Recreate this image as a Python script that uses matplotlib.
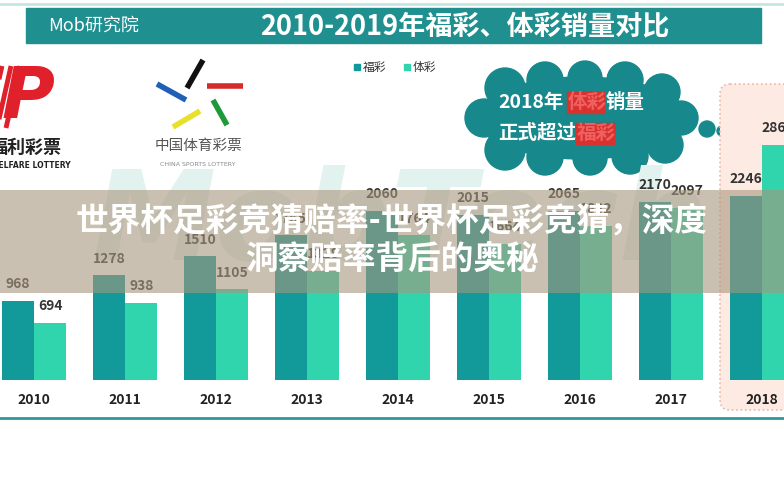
import matplotlib.pyplot as plt
from matplotlib.patches import Rectangle, Circle, Ellipse, FancyBboxPatch

plt.rcParams['font.family'] = ['Noto Sans CJK SC', 'DejaVu Sans']

years = ['2010', '2011', '2012', '2013', '2014', '2015', '2016', '2017', '2018']
fucai = [968, 1278, 1510, 1765, 2060, 2015, 2065, 2170, 2246]
ticai = [694, 938, 1105, 1328, 1764, 1664, 1882, 2097, 2869]
series_names = ['福彩', '体彩']

c_fu = '#12999a'
c_ti = '#30d4ad'
teal = '#1f8f8f'

fig = plt.figure(figsize=(7.84, 4.83), dpi=100)
fig.patch.set_facecolor('white')

# background layer in pixel coords
bg = fig.add_axes([0, 0, 1, 1])
bg.set_xlim(0, 784)
bg.set_ylim(483, 0)
bg.axis('off')
bg.set_zorder(0)

# thin line + title banner
bg.plot([0, 784], [4, 4], color='#c4e6e2', lw=2)
bg.add_patch(Rectangle((26, 8), 735, 35, color=teal))
bg.text(48, 26, 'Mob研究院', color='white', fontsize=13, style='italic',
        va='center', ha='left')
bg.text(465, 26, '2010-2019年福彩、体彩销量对比', color='white', fontsize=19.5,
        fontweight='bold', va='center', ha='center')

# legend
bg.add_patch(Rectangle((354, 64), 6, 6, color=c_fu))
bg.text(363, 67, series_names[0], fontsize=8.5, va='center', color='#333333')
bg.add_patch(Rectangle((404, 64), 6, 6, color=c_ti))
bg.text(413, 67, series_names[1], fontsize=8.5, va='center', color='#333333')

# welfare lottery logo (cropped at left edge)
for dx in [0, 9, 18]:
    bg.plot([dx - 12, dx + 2], [128, 66], color='#e0202a', lw=3.5, solid_capstyle='butt')
bg.text(28, 98, 'P', color='#e0202a', fontsize=52, fontweight='bold',
        style='italic', family='DejaVu Sans', ha='center', va='center')
bg.text(-10, 147, '福利彩票', fontsize=13, fontweight='bold', color='#222222',
        va='center', ha='left')
bg.text(-10, 165, 'WELFARE LOTTERY', fontsize=5.5, fontweight='bold',
        color='#222222', va='center', ha='left', family='DejaVu Sans')

# sports lottery logo
strokes = [((187, 88), (203, 60), '#111111'),
           ((207, 86), (243, 86), '#d62b2b'),
           ((157, 84), (186, 100), '#1f5fb5'),
           ((173, 127), (200, 111), '#e8e02a'),
           ((213, 100), (227, 125), '#1f9a3a')]
for (x0, y0), (x1, y1), col in strokes:
    bg.plot([x0, x1], [y0, y1], color=col, lw=4, solid_capstyle='butt')
bg.text(198, 146, '中国体育彩票', fontsize=10.5, color='#555555', ha='center', va='center')
bg.text(198, 165, 'CHINA SPORTS LOTTERY', fontsize=4.5, color='#888888',
        ha='center', va='center', family='DejaVu Sans')

# cloud
cloud_col = '#17888b'
bg.add_patch(Ellipse((582, 118), 210, 82, color=cloud_col))
for cx, cy, r in [(505, 88, 20), (545, 80, 18), (585, 78, 17), (625, 80, 18),
                  (662, 92, 18), (505, 150, 20), (545, 157, 18), (590, 158, 17),
                  (630, 156, 18), (665, 145, 18), (484, 118, 19), (681, 118, 17)]:
    bg.add_patch(Circle((cx, cy), r, color=cloud_col))
for cx, cy, r in [(707, 129, 8), (722, 131, 5), (732, 132, 3)]:
    bg.add_patch(Circle((cx, cy), r, color=cloud_col))
bg.text(498, 102, '2018年', color='white', fontsize=14, fontweight='bold', va='center')
bg.add_patch(Rectangle((567, 92), 37, 21, color='#d8322e'))
bg.text(568, 102, '体彩', color='#f06060', fontsize=14, fontweight='bold', va='center')
bg.text(606, 102, '销量', color='white', fontsize=14, fontweight='bold', va='center')
bg.text(498, 133, '正式超过', color='white', fontsize=14, fontweight='bold', va='center')
bg.add_patch(Rectangle((576, 123), 38, 21, color='#d8322e'))
bg.text(577, 133, '福彩', color='#f06060', fontsize=14, fontweight='bold', va='center')

# watermark
bg.text(400, 225, 'MobTech', fontsize=90, style='italic', fontweight='bold',
        color='#e2f2ef', ha='center', va='center', family='DejaVu Sans')

# 2018 highlight box
bg.add_patch(FancyBboxPatch((720, 84), 80, 326, boxstyle='round,pad=0,rounding_size=10',
                            facecolor='#fdeae3', edgecolor='#e6b9a9', lw=1.2, ls=':'))

# bottom line
bg.plot([0, 784], [418, 418], color='#2a9a96', lw=2)

# bar chart axes
ax = fig.add_axes([0, (483 - 380) / 483, 1, 380 / 483])
ax.set_zorder(1)
ax.patch.set_alpha(0)
ax.set_xlim(-34 / 91, 750 / 91)
ax.set_ylim(0, 380 / 0.082)
ax.axis('off')

w = 0.357
xs = range(len(years))
ax.bar([x - w / 2 for x in xs], fucai, width=w, color=c_fu)
ax.bar([x + w / 2 for x in xs], ticai, width=w, color=c_ti)
for x, v in zip(xs, fucai):
    ax.annotate(str(v), (x - w / 2, v), xytext=(0, 12), textcoords='offset points',
                ha='center', va='center', fontsize=10, fontweight='bold', color='#333333')
for x, v in zip(xs, ticai):
    ax.annotate(str(v), (x + w / 2, v), xytext=(0, 12), textcoords='offset points',
                ha='center', va='center', fontsize=10, fontweight='bold', color='#333333')
for x, yr in zip(xs, years):
    ax.annotate(yr, (x, 0), xytext=(0, -14.5), textcoords='offset points',
                ha='center', va='center', fontsize=10, fontweight='bold', color='#222222')

# overlay band with article title
ov = fig.add_axes([0, 0, 1, 1])
ov.set_zorder(2)
ov.patch.set_alpha(0)
ov.set_xlim(0, 784)
ov.set_ylim(483, 0)
ov.axis('off')
ov.add_patch(Rectangle((0, 190), 784, 103, color=(0.66, 0.59, 0.49), alpha=0.6, lw=0))
ov.text(392, 221, '世界杯足彩竞猜赔率-世界杯足彩竞猜，深度', color='white', fontsize=23.5,
        fontweight='bold', ha='center', va='center')
ov.text(392, 259, '洞察赔率背后的奥秘', color='white', fontsize=23.5,
        fontweight='bold', ha='center', va='center')

fig.savefig('out.png', dpi=100)
